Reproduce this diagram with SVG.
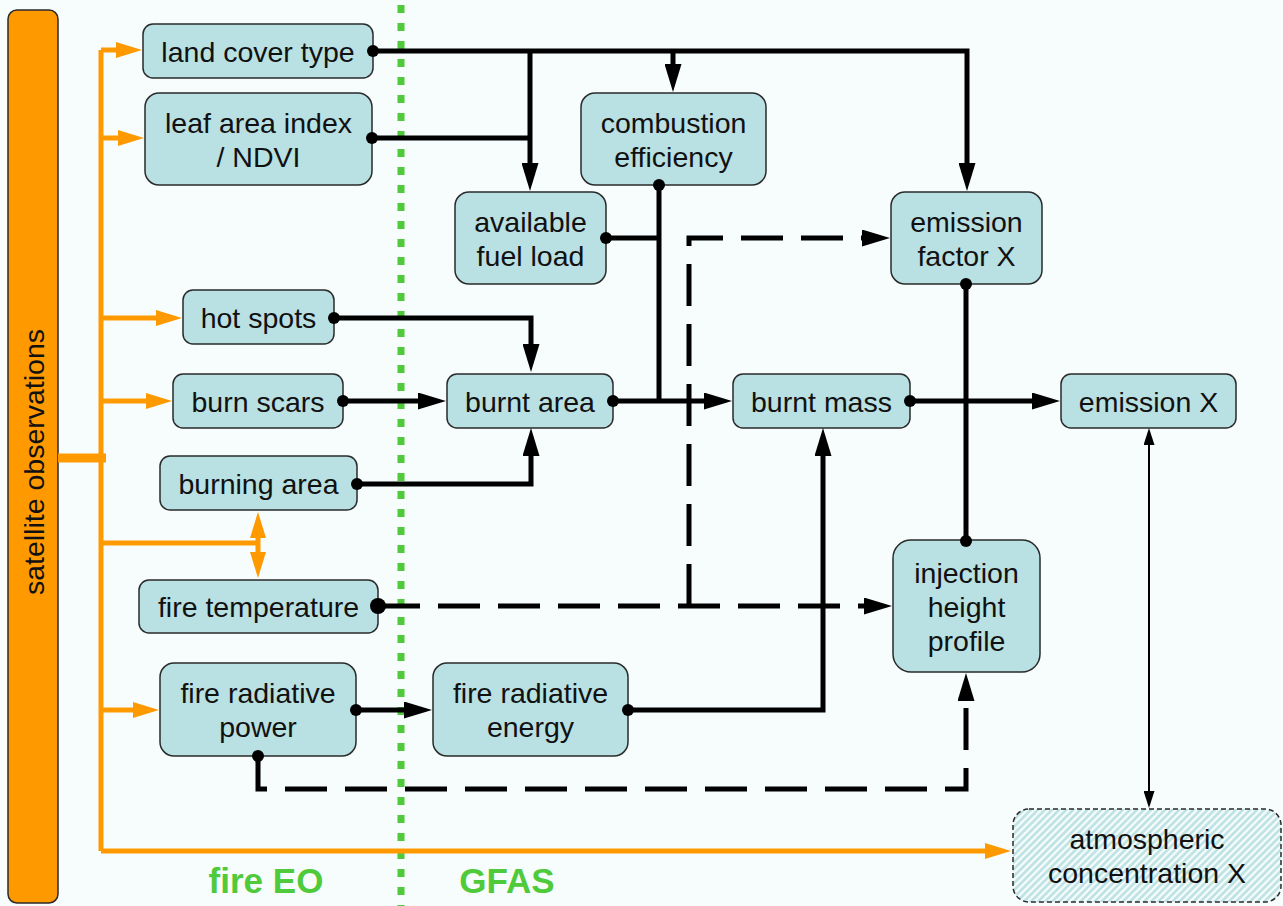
<svg xmlns="http://www.w3.org/2000/svg" width="1283" height="906" viewBox="0 0 1283 906">
<style>
.node{fill:#b9e0e2;stroke:#2a2a2a;stroke-width:1.5}
.t{font-family:"Liberation Sans",Arial,sans-serif;font-size:28.5px;fill:#111;text-anchor:middle}
.lbl{font-family:"Liberation Sans",Arial,sans-serif;font-size:35px;font-weight:bold;fill:#4fca3a;text-anchor:middle}
.c{fill:none;stroke:#000;stroke-width:5}
.d{fill:none;stroke:#000;stroke-width:5;stroke-dasharray:42 18}
.thin{fill:none;stroke:#000;stroke-width:2}
.o{fill:none;stroke:#ff9900;stroke-width:5}
</style>
<defs>
<marker id="ah" markerUnits="userSpaceOnUse" markerWidth="28" markerHeight="17" viewBox="0 0 28 17" refX="1" refY="8.5" orient="auto"><path d="M0,0 L28,8.5 L0,17 z" fill="#000"/></marker>
<marker id="ahs" markerUnits="userSpaceOnUse" markerWidth="17" markerHeight="11" viewBox="0 0 17 11" refX="1" refY="5.5" orient="auto-start-reverse"><path d="M0,0 L17,5.5 L0,11 z" fill="#000"/></marker>
<marker id="aho" markerUnits="userSpaceOnUse" markerWidth="26" markerHeight="16" viewBox="0 0 26 16" refX="1" refY="8" orient="auto-start-reverse"><path d="M0,0 L26,8 L0,16 z" fill="#ff9900"/></marker>
<marker id="dot" markerUnits="userSpaceOnUse" markerWidth="12" markerHeight="12" viewBox="0 0 12 12" refX="6" refY="6" orient="auto"><circle cx="6" cy="6" r="6" fill="#000"/></marker>
<pattern id="hatch" patternUnits="userSpaceOnUse" width="5" height="5" patternTransform="rotate(45)"><rect width="5" height="5" fill="#f7fcfc"/><line x1="1.5" y1="0" x2="1.5" y2="5" stroke="#b9e0e2" stroke-width="2.5"/></pattern>
</defs>
<rect x="0" y="0" width="1283" height="906" fill="#f7fcfc"/>

<g id="satellite">
<rect x="8" y="10" width="50" height="893" rx="9" fill="#ff9900" stroke="#2a2a2a" stroke-width="1.5"/>
<text class="t" transform="translate(44,462) rotate(-90)">satellite observations</text>
</g>

<g id="divider">
<line x1="401" y1="5" x2="401" y2="906" stroke="#4fca3a" stroke-width="7" stroke-dasharray="8 10"/>
<text class="lbl" x="266" y="893">fire EO</text>
<text class="lbl" x="507" y="893">GFAS</text>
</g>

<g id="n-landcover"><rect class="node" x="143" y="24" width="230" height="54" rx="10"/><text class="t" x="258" y="61.5">land cover type</text></g>
<g id="n-leaf"><rect class="node" x="145" y="93" width="227" height="92" rx="14"/><text class="t" x="258.5" y="132.5">leaf area index</text><text class="t" x="258.5" y="166.5">/ NDVI</text></g>
<g id="n-combustion"><rect class="node" x="581" y="93" width="185" height="92" rx="14"/><text class="t" x="673.5" y="132.5">combustion</text><text class="t" x="673.5" y="166.5">efficiency</text></g>
<g id="n-fuel"><rect class="node" x="455" y="192" width="151" height="92" rx="14"/><text class="t" x="530.5" y="231.5">available</text><text class="t" x="530.5" y="265.5">fuel load</text></g>
<g id="n-ef"><rect class="node" x="891" y="192" width="151" height="92" rx="14"/><text class="t" x="966.5" y="231.5">emission</text><text class="t" x="966.5" y="265.5">factor X</text></g>
<g id="n-hotspots"><rect class="node" x="183" y="290" width="151" height="54" rx="10"/><text class="t" x="258.5" y="327.5">hot spots</text></g>
<g id="n-burnscars"><rect class="node" x="173" y="374" width="170" height="54" rx="10"/><text class="t" x="258" y="411.5">burn scars</text></g>
<g id="n-burntarea"><rect class="node" x="447" y="374" width="166" height="54" rx="10"/><text class="t" x="530" y="411.5">burnt area</text></g>
<g id="n-burntmass"><rect class="node" x="733" y="374" width="177" height="54" rx="10"/><text class="t" x="821.5" y="411.5">burnt mass</text></g>
<g id="n-emission"><rect class="node" x="1061" y="374" width="175" height="54" rx="10"/><text class="t" x="1148.5" y="411.5">emission X</text></g>
<g id="n-burning"><rect class="node" x="160" y="456" width="197" height="54" rx="10"/><text class="t" x="258.5" y="493.5">burning area</text></g>
<g id="n-firetemp"><rect class="node" x="139" y="580" width="239" height="53" rx="10"/><text class="t" x="258.5" y="617">fire temperature</text></g>
<g id="n-injection"><rect class="node" x="893" y="540" width="147" height="132" rx="18"/><text class="t" x="966.5" y="582.5">injection</text><text class="t" x="966.5" y="616.5">height</text><text class="t" x="966.5" y="650.5">profile</text></g>
<g id="n-frp"><rect class="node" x="160" y="663" width="196" height="93" rx="14"/><text class="t" x="258" y="703">fire radiative</text><text class="t" x="258" y="737">power</text></g>
<g id="n-fre"><rect class="node" x="433" y="663" width="195" height="93" rx="14"/><text class="t" x="530.5" y="703">fire radiative</text><text class="t" x="530.5" y="737">energy</text></g>
<g id="n-atmos"><rect x="1013" y="809" width="268" height="93" rx="16" fill="url(#hatch)" stroke="#2a2a2a" stroke-width="1.5" stroke-dasharray="5 3"/><text class="t" x="1147" y="849">atmospheric</text><text class="t" x="1147" y="883">concentration X</text></g>

<g id="connectors">
<!-- orange -->
<path class="o" d="M101,50 V851"/>
<path d="M58,458 H106" stroke="#ff9900" stroke-width="9" fill="none"/>
<path class="o" d="M101,50 H117" marker-end="url(#aho)"/>
<path class="o" d="M101,138 H119" marker-end="url(#aho)"/>
<path class="o" d="M101,318 H157" marker-end="url(#aho)"/>
<path class="o" d="M101,401 H147" marker-end="url(#aho)"/>
<path class="o" d="M101,543 H258"/>
<path class="o" d="M258,537 V553" marker-start="url(#aho)" marker-end="url(#aho)"/>
<path class="o" d="M101,710 H134" marker-end="url(#aho)"/>
<path class="o" d="M101,851 H986" marker-end="url(#aho)"/>
<!-- black solid -->
<path class="c" d="M373,51 H967 V164" marker-start="url(#dot)" marker-end="url(#ah)"/>
<path class="c" d="M530,51 V164" marker-end="url(#ah)"/>
<path class="c" d="M673,51 V65" marker-end="url(#ah)"/>
<path class="c" d="M372,138 H530" marker-start="url(#dot)"/>
<path class="c" d="M659,185 V401" marker-start="url(#dot)"/>
<path class="c" d="M606,238 H659" marker-start="url(#dot)"/>
<path class="c" d="M613,401 H705" marker-start="url(#dot)" marker-end="url(#ah)"/>
<path class="c" d="M334,318 H531 V345" marker-start="url(#dot)" marker-end="url(#ah)"/>
<path class="c" d="M343,401 H419" marker-start="url(#dot)" marker-end="url(#ah)"/>
<path class="c" d="M357,484 H531 V455" marker-start="url(#dot)" marker-end="url(#ah)"/>
<path class="c" d="M910,401 H1033" marker-start="url(#dot)" marker-end="url(#ah)"/>
<path class="c" d="M966,284 V541" marker-start="url(#dot)" marker-end="url(#dot)"/>
<path class="c" d="M356,710 H405" marker-start="url(#dot)" marker-end="url(#ah)"/>
<path class="c" d="M628,710 H823 V455" marker-start="url(#dot)" marker-end="url(#ah)"/>
<!-- black dashed -->
<path class="d" d="M378,606 H865" marker-end="url(#ah)"/>
<circle cx="378" cy="606" r="8" fill="#000"/>
<path class="d" d="M689,606 V238 H863" marker-end="url(#ah)"/>
<path class="d" d="M258,756 V789 H966 V700" marker-start="url(#dot)" marker-end="url(#ah)"/>
<!-- thin double -->
<path class="thin" d="M1149,444 V792" marker-start="url(#ahs)" marker-end="url(#ahs)"/>
</g>
</svg>
